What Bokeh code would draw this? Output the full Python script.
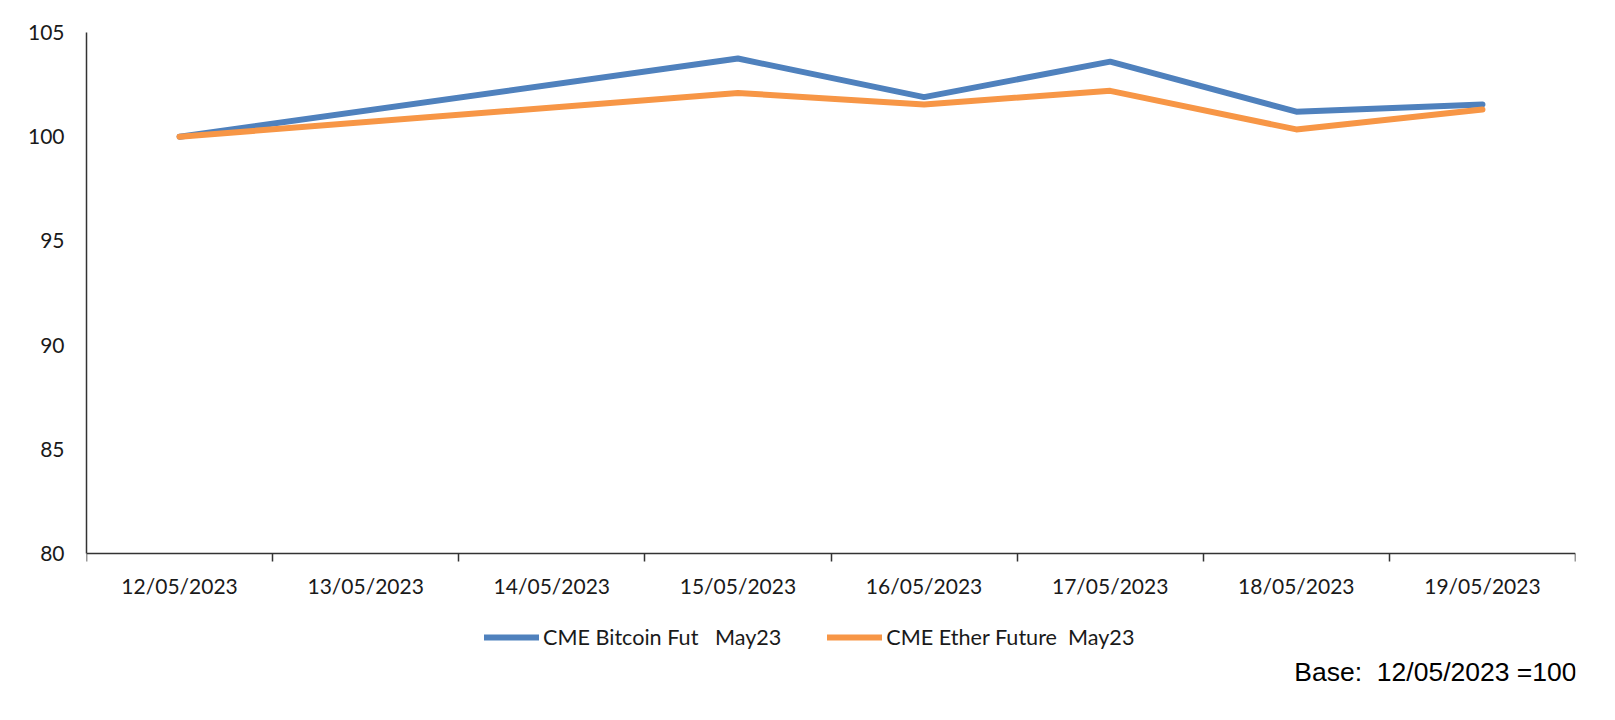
from bokeh.plotting import figure
from bokeh.models import FixedTicker, Legend, LegendItem, Label, Range1d
from bokeh.embed import file_html
from bokeh.resources import INLINE

# ---- data ----
categories = ["12/05/2023", "13/05/2023", "14/05/2023", "15/05/2023",
              "16/05/2023", "17/05/2023", "18/05/2023", "19/05/2023"]
trade_dates = ["12/05/2023", "15/05/2023", "16/05/2023", "17/05/2023",
               "18/05/2023", "19/05/2023"]
bitcoin = [100.0, 103.75, 101.9, 103.6, 101.2, 101.55]
ether = [100.0, 102.1, 101.55, 102.2, 100.35, 101.3]
series_names = ["CME Bitcoin Fut\u00a0\u00a0 May23", "CME Ether Future\u00a0 May23"]
y_ticks = [80, 85, 90, 95, 100, 105]
base_note = "Base:\u00a0 12/05/2023 =100"

# category positions (centres of categorical slots)
x_pos = [categories.index(d) + 0.5 for d in trade_dates]

FONT = "Lato"
TXT = "#1a1a1a"
AX = "#333333"

# layout: axis area is 521px tall; frame extends below it to host legend + note
AXIS_PX = 521
EXTRA_PX = 150
y_lo, y_hi = min(y_ticks), max(y_ticks)
y_start = y_lo - EXTRA_PX * (y_hi - y_lo) / AXIS_PX

p = figure(frame_width=1489, frame_height=AXIS_PX + EXTRA_PX,
           output_backend="svg", toolbar_location=None,
           x_range=Range1d(0, len(categories)), y_range=Range1d(y_start, y_hi),
           min_border_left=86, min_border_right=24, min_border_top=32, min_border_bottom=0)
p.outline_line_color = None
p.xgrid.visible = False
p.ygrid.visible = False

r_btc = p.line(x_pos, bitcoin, line_color="#4F81BD", line_width=6,
               line_cap="round", line_join="round")
r_eth = p.line(x_pos, ether, line_color="#F79646", line_width=6,
               line_cap="round", line_join="round")

# x axis: labels at category centres, tick marks on boundaries, sits at y=80
xa = p.xaxis[0]
xa.fixed_location = y_lo
xa.ticker = FixedTicker(ticks=[i + 0.5 for i in range(len(categories))],
                        minor_ticks=list(range(len(categories) + 1)))
xa.major_label_overrides = {i + 0.5: c for i, c in enumerate(categories)}
xa.major_tick_out = 0
xa.major_tick_in = 0
xa.minor_tick_out = 8
xa.minor_tick_in = 0
xa.minor_tick_line_color = AX
xa.minor_tick_line_width = 1.5
xa.axis_line_color = AX
xa.axis_line_width = 1.5
xa.major_label_standoff = 11
xa.major_label_text_font = FONT
xa.major_label_text_font_size = "21px"
xa.major_label_text_color = TXT

ya = p.yaxis[0]
ya.bounds = (y_lo, y_hi)
ya.ticker = FixedTicker(ticks=y_ticks)
ya.major_tick_out = 0
ya.major_tick_in = 0
ya.minor_tick_out = 0
ya.minor_tick_in = 0
ya.axis_line_color = AX
ya.axis_line_width = 1.5
ya.major_label_standoff = 22
ya.major_label_text_font = FONT
ya.major_label_text_font_size = "21px"
ya.major_label_text_color = TXT

legend = Legend(items=[LegendItem(label=series_names[0], renderers=[r_btc]),
                       LegendItem(label=series_names[1], renderers=[r_eth])],
                orientation="horizontal", location=(398, 53),
                glyph_width=55, glyph_height=24, label_height=24,
                label_standoff=4, spacing=46, padding=0, margin=0,
                border_line_color=None, background_fill_alpha=0,
                label_text_font=FONT, label_text_font_size="21.6px",
                label_text_color=TXT)
p.add_layout(legend, "center")

note = Label(x=len(categories), y=y_lo, x_offset=1, y_offset=-118,
             text=base_note, text_align="right", text_baseline="middle",
             text_font="Liberation Sans", text_font_size="26.5px", text_color="#000000")
p.add_layout(note)

open("out.html", "w").write(file_html(p, INLINE))
